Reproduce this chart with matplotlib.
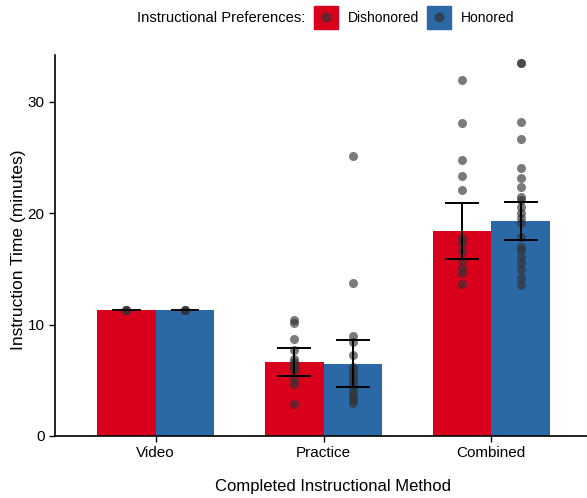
import numpy as np
import matplotlib
matplotlib.use("Agg")
import matplotlib.pyplot as plt
from matplotlib.patches import Rectangle
from matplotlib.lines import Line2D

plt.rcParams['font.family'] = ['Liberation Sans', 'DejaVu Sans']

methods = ["Video", "Practice", "Combined"]
groups = ["Dishonored", "Honored"]
colors = ["#D9001B", "#2B68A6"]

# mean instruction time per method / preference group
means = {
    "Dishonored": [11.35, 6.65, 18.42],
    "Honored": [11.35, 6.47, 19.30],
}
err_lo = {
    "Dishonored": [11.35, 5.4, 15.9],
    "Honored": [11.35, 4.4, 17.6],
}
err_hi = {
    "Dishonored": [11.35, 7.9, 20.9],
    "Honored": [11.35, 8.6, 21.05],
}

# individual participants
pts = {
    ("Video", "Dishonored"): [11.35, 11.35, 11.35],
    ("Video", "Honored"): [11.35, 11.35, 11.35],
    ("Practice", "Dishonored"): [10.4, 10.1, 8.7, 7.7, 6.9, 6.6, 6.4, 6.2, 5.9, 5.1, 4.7, 2.9],
    ("Practice", "Honored"): [25.1, 13.7, 9.0, 8.4, 7.3, 6.2, 5.8, 5.4, 5.0, 4.6, 4.2, 3.8,
                              3.5, 3.2, 3.0],
    ("Combined", "Dishonored"): [32.0, 28.1, 24.8, 23.3, 22.1, 17.8, 17.3, 16.6, 15.8,
                                 15.1, 14.6, 13.65],
    ("Combined", "Honored"): [33.5, 33.5, 28.2, 26.65, 24.05, 23.2, 22.35, 21.5, 21.2,
                              20.6, 20.0, 19.6, 19.1, 17.9, 17.0, 16.7, 16.1, 15.5,
                              14.9, 14.2, 13.6],
}

fig = plt.figure(figsize=(5.87, 4.98), dpi=100)
ax = fig.add_axes([0.0937, 0.1245, 0.9063, 0.765])

x = np.arange(1, len(methods) + 1)
w = 0.35
for i, g in enumerate(groups):
    xs = x + (i - 0.5) * w
    ax.bar(xs, means[g], width=w, color=colors[i], zorder=1)
    for j, m in enumerate(methods):
        vals = pts[(m, g)]
        ax.scatter(np.full(len(vals), xs[j]), vals, s=42, color="#333333",
                   alpha=0.65, linewidths=0, zorder=2)
        if err_hi[g][j] > err_lo[g][j]:
            ax.errorbar(xs[j], means[g][j],
                        yerr=[[means[g][j] - err_lo[g][j]], [err_hi[g][j] - means[g][j]]],
                        color="black", capsize=12, elinewidth=1.4, capthick=1.4,
                        zorder=3)
        else:
            ax.plot([xs[j] - 0.08, xs[j] + 0.08], [means[g][j]] * 2, color="black",
                    lw=1.4, zorder=3)

ax.set_xlim(0.4, 3.57)
ax.set_ylim(0, 34.2)
ax.set_xticks(x)
ax.set_xticklabels(methods)
ax.set_yticks([0, 10, 20, 30])
for s in ["top", "right"]:
    ax.spines[s].set_visible(False)
for s in ["left", "bottom"]:
    ax.spines[s].set_linewidth(1.2)
ax.tick_params(axis="both", labelsize=11, length=4, width=1, colors="black")
ax.set_xlabel("Completed Instructional Method", fontsize=12)
ax.set_ylabel("Instruction Time (minutes)", fontsize=12.5)
ax.xaxis.set_label_coords(0.522, -0.114)
ax.yaxis.set_label_coords(-0.055, 0.49)

# legend across the top
W, H = 587, 498
fig.text(305 / W, 1 - 18 / H, "Instructional Preferences:", ha="right", va="center",
         fontsize=10.6)
for k, (g, c, x0) in enumerate(zip(groups, colors, [314, 427])):
    fig.patches.append(Rectangle((x0 / W, 1 - 29 / H), 24 / W, 23 / H, color=c,
                                 transform=fig.transFigure))
    fig.lines.append(Line2D([(x0 + 12) / W], [1 - 17.5 / H], marker="o", ms=6,
                            color="#333333", alpha=0.65, transform=fig.transFigure))
    fig.text((x0 + 34) / W, 1 - 18 / H, g, ha="left", va="center", fontsize=10)

fig.savefig("out.png", dpi=100)
